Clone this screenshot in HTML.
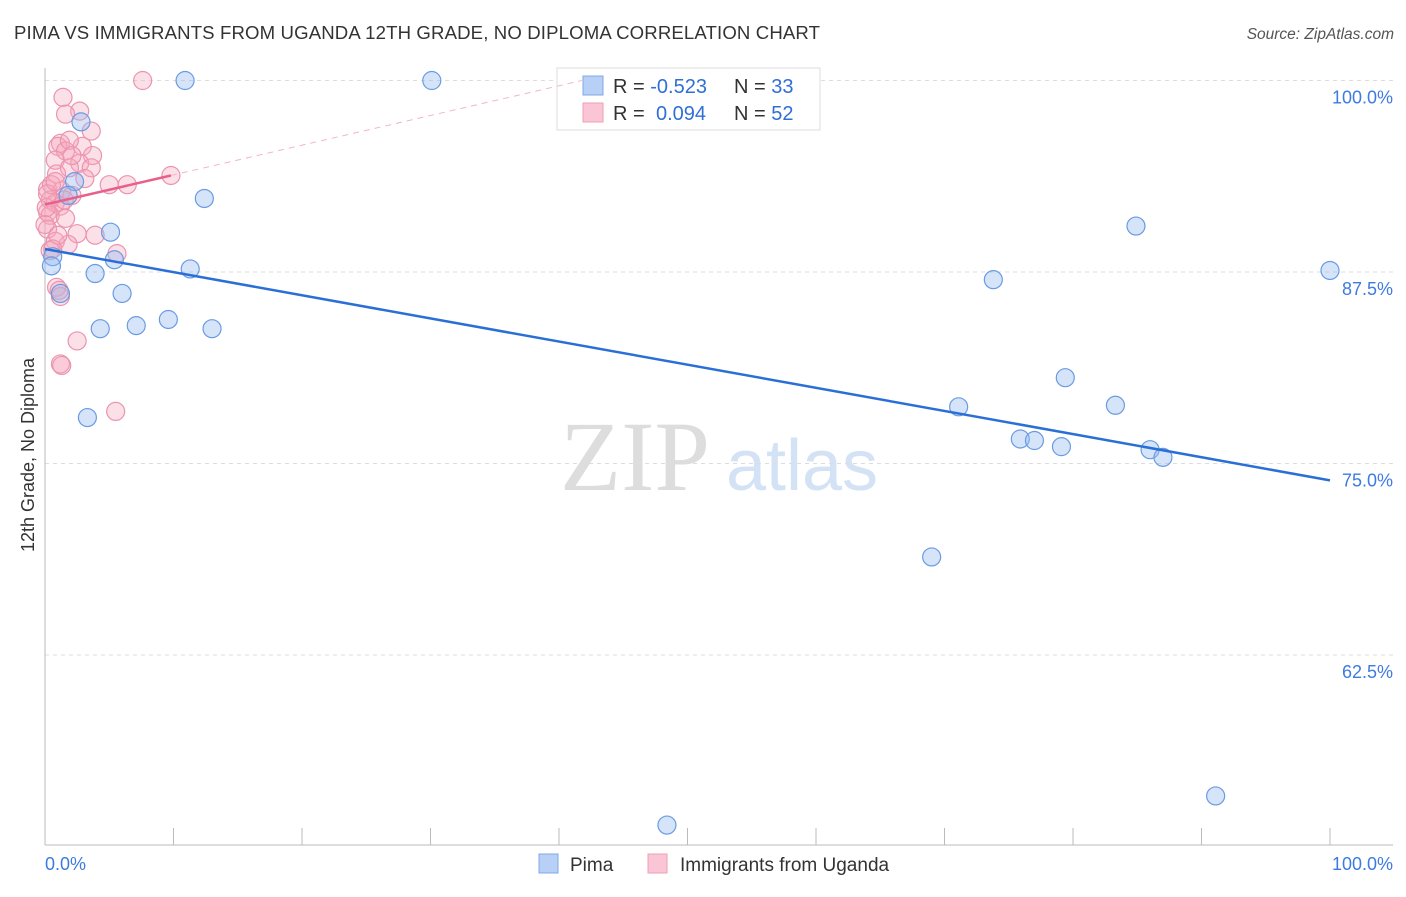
<!DOCTYPE html>
<html><head><meta charset="utf-8"><style>
body{margin:0;background:#fff;font-family:"Liberation Sans",sans-serif;}
svg text{font-family:"Liberation Sans",sans-serif;}
</style></head><body>
<svg id="chart" width="1406" height="892">
<text x="14" y="39" font-size="18.6" fill="#333" textLength="806">PIMA VS IMMIGRANTS FROM UGANDA 12TH GRADE, NO DIPLOMA CORRELATION CHART</text>
<text x="1394" y="39" font-size="15.5" fill="#555" font-style="italic" text-anchor="end">Source: ZipAtlas.com</text>
<text transform="translate(34,455) rotate(-90)" font-size="18" fill="#333" text-anchor="middle">12th Grade, No Diploma</text>
<g><text x="635" y="490" font-size="100" fill="#ddd" style="font-family:'Liberation Serif',serif" text-anchor="middle">ZIP</text><text x="802" y="490" font-size="72" fill="#d4e2f5" text-anchor="middle">atlas</text></g>
<g id="grid"></g><g id="axes"></g><g id="trends"></g><g id="pts"></g>
<g>
<rect x="557" y="68" width="263" height="62" fill="#fff" stroke="#ddd"/>
<rect x="583" y="76" width="20" height="19" fill="#b8d0f5" stroke="#7fa8e8"/>
<rect x="583" y="103" width="20" height="19" fill="#fac6d5" stroke="#ef9fb8"/>
<text x="613" y="93" font-size="20" fill="#333">R = <tspan fill="#2f6fd6">-0.523</tspan></text>
<text x="734" y="93" font-size="20" fill="#333">N = <tspan fill="#2f6fd6">33</tspan></text>
<text x="613" y="120" font-size="20" fill="#333">R = <tspan fill="#2f6fd6" x="656">0.094</tspan></text>
<text x="734" y="120" font-size="20" fill="#333">N = <tspan fill="#2f6fd6">52</tspan></text>
</g>
<g>
<rect x="539" y="854" width="19" height="19" fill="#b8d0f5" stroke="#7fa8e8"/>
<text x="570" y="871" font-size="19" fill="#333">Pima</text>
<rect x="648" y="854" width="19" height="19" fill="#fac6d5" stroke="#ef9fb8"/>
<text x="680" y="871" font-size="19" fill="#333">Immigrants from Uganda</text>
</g>
</svg>
<script>
const blueX=[10.9,30.1,2.8,2.3,12.4,1.8,5.1,0.6,0.5,5.4,3.9,11.3,1.2,6.0,4.3,7.1,9.6,13.0,3.3,84.9,73.8,100,79.4,71.1,83.3,75.9,77.0,79.1,86.0,87.0,69.0,91.1,48.4];
const blueY=[100,100,97.3,93.4,92.3,92.5,90.1,88.5,87.9,88.3,87.4,87.7,86.1,86.1,83.8,84.0,84.4,83.8,78.0,90.5,87.0,87.6,80.6,78.7,78.8,76.6,76.5,76.1,75.9,75.4,68.9,53.3,51.4];
const pinkX=[7.6,1.4,2.7,1.6,3.6,1.2,1.0,2.9,1.6,3.7,0.8,2.7,1.9,3.6,0.9,9.8,5.0,6.4,0.2,1.3,2.1,0.4,0.8,1.2,0.2,0.4,0.2,2.5,3.9,0.8,1.8,0.4,5.6,0.9,1.2,2.5,1.2,1.3,5.5,0.5,1.6,0,1.0,1.9,3.1,0.1,0.6,2.1,1.5,0.2,1.1,0.8];
const pinkY=[100,98.9,98.0,97.8,96.7,95.9,95.7,95.7,95.4,95.1,94.8,94.6,94.3,94.3,93.9,93.8,93.2,93.2,92.9,92.8,92.5,92.2,92.0,91.8,91.4,91.2,90.3,90.0,89.9,89.5,89.3,88.9,88.7,86.5,85.9,83.0,81.5,81.4,78.4,93.2,91.0,90.6,89.9,96.1,93.6,91.7,89.0,95.1,92.2,92.6,86.3,93.4];
const blueTrend=[89.0,73.9];   // y at x=0, x=100
const pinkTrend=[91.9,93.8,9.8]; // y at 0, y at end, solid end x
const yTicks=[100,87.5,75,62.5];
const yTickLabels=["100.0%","87.5%","75.0%","62.5%"];
const xTickLabels=["0.0%","100.0%"];
const X=v=>45+v*12.85, Y=v=>80.5+(100-v)*15.32;
const NS="http://www.w3.org/2000/svg";
function mk(p,t,a){const e=document.createElementNS(NS,t);for(const k in a)e.setAttribute(k,a[k]);p.appendChild(e);return e;}
const grid=document.getElementById('grid'),axes=document.getElementById('axes'),tr=document.getElementById('trends'),pts=document.getElementById('pts');
yTicks.forEach((v,i)=>{
 const l=mk(grid,'line',{x1:45,x2:1393,y1:Y(v),y2:Y(v),stroke:'#ddd','stroke-dasharray':'4,4'});
 
 
 const t=mk(grid,'text',{x:1393,y:Y(v)+23,'font-size':18,fill:'#3d7be0','text-anchor':'end'});t.textContent=yTickLabels[i];
 
 
});
mk(axes,'line',{x1:45,x2:45,y1:68,y2:845,stroke:'#bbb'});
const xa=mk(axes,'line',{x1:45,x2:1393,y1:845,y2:845,stroke:'#bbb'});


for(let i=0;i<=10;i++){mk(axes,'line',{x1:X(i*10),x2:X(i*10),y1:828,y2:845,stroke:'#bbb'});}
const t0=mk(axes,'text',{x:45,y:870,'font-size':18,fill:'#3d7be0'});t0.textContent=xTickLabels[0];


const t1=mk(axes,'text',{x:1393,y:870,'font-size':18,fill:'#3d7be0','text-anchor':'end'});t1.textContent=xTickLabels[1];


const ps=(pinkTrend[1]-pinkTrend[0])/pinkTrend[2];
const xEnd=(100-pinkTrend[0])/ps;
const pd=mk(tr,'line',{x1:X(pinkTrend[2]),y1:Y(pinkTrend[1]),x2:X(xEnd),y2:Y(100),stroke:'#f4b4c6','stroke-dasharray':'6,5','stroke-width':1});


function dots(xs,ys,fill,stroke,name){xs.forEach((x,i)=>{const c=mk(pts,'circle',{cx:X(x),cy:Y(ys[i]),r:9,fill:fill,stroke:stroke,'stroke-width':1.2});
 
 });}
dots(pinkX,pinkY,'rgba(246,165,190,0.35)','#eb94ae','uganda-point');
dots(blueX,blueY,'rgba(150,188,240,0.4)','#6a9be2','pima-point');
const bl=mk(tr,'line',{x1:X(0),y1:Y(blueTrend[0]),x2:X(100),y2:Y(blueTrend[1]),stroke:'#2a6fd6','stroke-width':2.5});


const pl=mk(tr,'line',{x1:X(0),y1:Y(pinkTrend[0]),x2:X(pinkTrend[2]),y2:Y(pinkTrend[1]),stroke:'#e8608a','stroke-width':2.5});


document.getElementById('chart').appendChild(tr);
</script>
</body></html>
